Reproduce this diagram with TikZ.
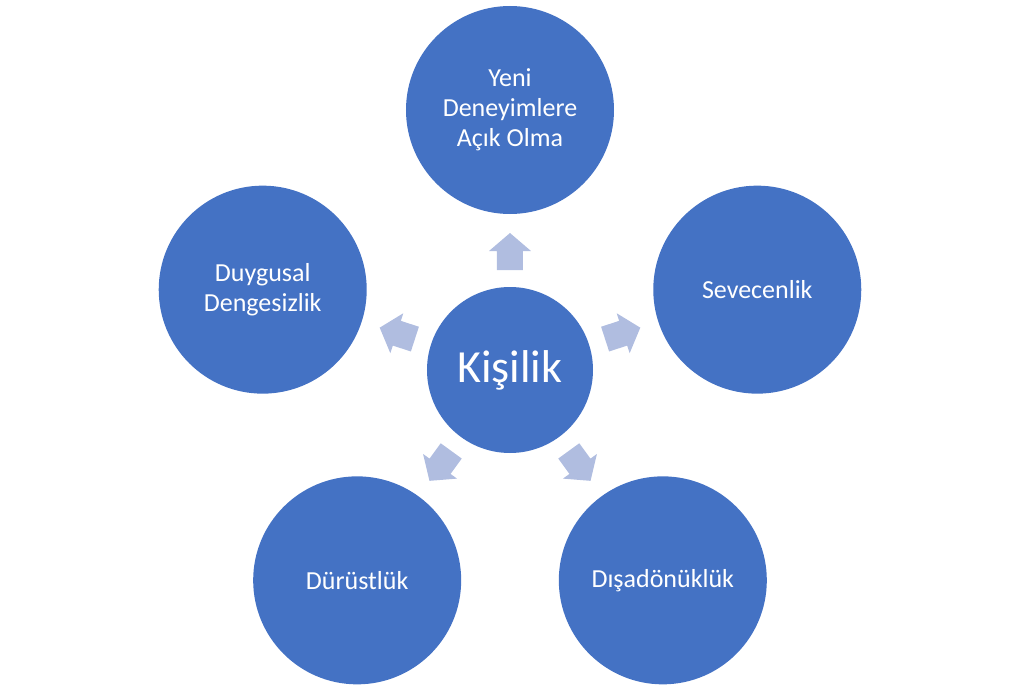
\documentclass[tikz,border=0pt]{standalone}
\usepackage{fontspec}
\setmainfont{Carlito}
\definecolor{mavi}{HTML}{4472C4}
\definecolor{acikmavi}{HTML}{B0BDE0}

\begin{document}
\begin{tikzpicture}[x=1pt,y=1pt,
		daire/.style={circle, fill=mavi, text=white, minimum size=208pt, inner sep=0pt, align=center, font=\fontsize{26}{30}\selectfont}]
		\useasboundingbox (-510,-324) rectangle (513,370);
		\node[daire, minimum size=166pt, font=\fontsize{46}{50}\selectfont] (kisilik) at (0,0) {Kişilik};
		\node[daire] (yeni) at (90:260) {Yeni\\Deneyimlere\\Açık Olma};
		\node[daire] (sevecenlik) at (18:260) {Sevecenlik};
		\node[daire] (disadonukluk) at (-54:260) {Dışadönüklük};
		\node[daire] (durustluk) at (-126:260) {Dürüstlük};
		\node[daire] (duygusal) at (162:260) {Duygusal\\Dengesizlik};
		\foreach \a in {90,18,-54,-126,162}
			\fill[acikmavi, shift={(\a:118.5)}, rotate=\a] (-18.5,-13) -- (0.5,-13) -- (0.5,-21) -- (18.5,0) -- (0.5,21) -- (0.5,13) -- (-18.5,13) -- cycle;
	\end{tikzpicture}
\end{document}
